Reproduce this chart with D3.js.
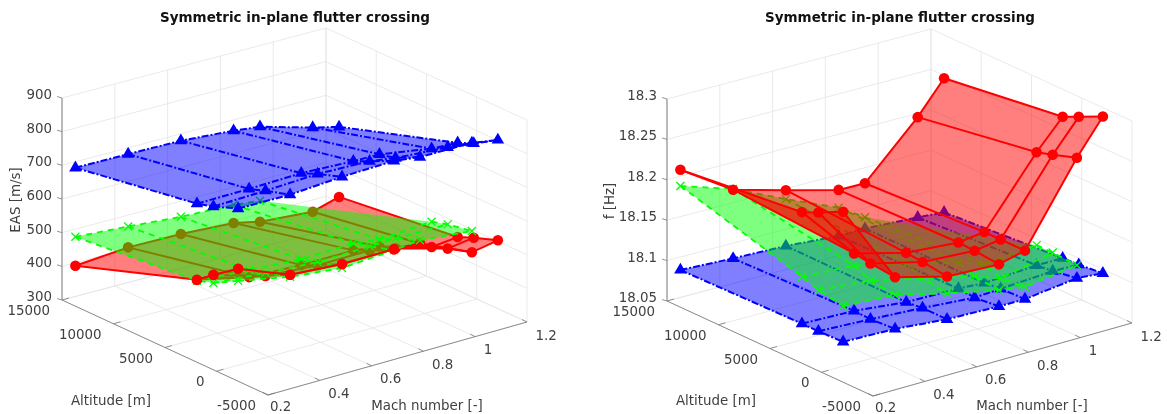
<!DOCTYPE html>
<html>
<head>
<meta charset="utf-8">
<script src="https://d3js.org/d3.v7.min.js"></script>
<style>
  html, body { margin: 0; padding: 0; background: #fff; }
  svg { display: block; filter: blur(0.35px); }
  text { font-family: "DejaVu Sans", sans-serif; fill: #404040; }
</style>
</head>
<body>
<svg id="chart" width="1167" height="414"></svg>
<script>
const machValues = [0.2, 0.4, 0.6, 0.8, 0.9, 1.1, 1.2]
const altValues = [13700, 1900, 300, -2100]

const machTicks = [0.2, 0.4, 0.6, 0.8, 1, 1.2]
const altTicks = [-5000, 0, 5000, 10000, 15000]
const easTicks = [300, 400, 500, 600, 700, 800, 900]
const freqTicks = [18.05, 18.1, 18.15, 18.2, 18.25, 18.3]
const freqTickLabels = ["18.05", "18.1", "18.15", "18.2", "18.25", "18.3"]

// one row per altitude, one column per mach number
const easBlue = [
    [711, 710, 708, 696, 687, 643, 624],
    [771, 772, 776, 769, 768, 742, 738],
    [785, 789, 796, 791, 779, 768, 758],
    [813, 811, 821, 825, 815, 814, 801]
]
const easRed = [
    [420, 433, 431, 422, 405, 393, 416],
    [545, 510, 503, 504, 494, 450, 458],
    [582, 536, 525, 526, 511, 467, 478],
    [634, 573, 562, 563, 559, 489, 503]
]
const easGreen = [
    [506, 495, 482, 476, 467, null, null],
    [542, 531, 520, 525, 515, 525, null],
    [558, 545, 534, 538, 540, 539, null],
    [598, 567, 550, 560, 568, 552, null]
]
const freqBlue = [
    [18.096, 18.093, 18.091, 18.086, 18.0865, 18.083, 18.0805],
    [18.099, 18.097, 18.090, 18.089, 18.087, 18.091, 18.091],
    [18.099, 18.096, 18.092, 18.087, 18.089, 18.093, 18.092],
    [18.100, 18.098, 18.092, 18.090, 18.090, 18.098, 18.095]
]
const freqRed = [
    [18.220, 18.178, 18.160, 18.143, 18.1425, 18.207, 18.2465],
    [18.237, 18.168, 18.151, 18.146, 18.150, 18.231, 18.266],
    [18.246, 18.165, 18.149, 18.145, 18.150, 18.237, 18.275],
    [18.261, 18.162, 18.145, 18.142, 18.150, 18.247, 18.289]
]
const freqGreen = [
    [18.200, 18.179, 18.149, 18.121, 18.1005, null, null],
    [18.157, 18.153, 18.138, 18.121, 18.110, 18.116, null],
    [18.150, 18.144, 18.129, 18.113, 18.102, 18.116, null],
    [18.144, 18.140, 18.124, 18.110, 18.105, 18.114, null]
]

const styles = {
    blue: { stroke: "#0000ff", fill: "#0000ff", dash: "7 2 2 2", width: 2, marker: "triangle" },
    green: { stroke: "#00ff00", fill: "#00ff00", dash: "6 5", width: 1.8, marker: "cross" },
    red: { stroke: "#ff0000", fill: "#ff0000", dash: null, width: 2, marker: "circle" }
}

const svg = d3.select("#chart")
const machScale = d3.scaleLinear().domain([0.2, 1.2]).range([0, 1])
const altScale = d3.scaleLinear().domain([-5000, 15000]).range([0, 1])

function drawPanel(panel) {
    const g = svg.append("g").attr("transform", "translate(" + panel.dx + "," + panel.dy + ")")
    const zScale = d3.scaleLinear().domain(panel.zDomain).range([0, 202])
    const zMin = panel.zDomain[0]
    const zMax = panel.zDomain[1]

    // floor is slightly skewed, the back corner sits a bit off a pure parallelogram
    const project = (m, h, z) => {
        let u = machScale(m)
        let v = altScale(h)
        return [
            268 + 259 * u - 206 * v + 5 * u * v,
            395 - 73 * u - 95 * v + 3 * u * v - zScale(z)
        ]
    }
    const line = d3.line()

    // grid on the floor and on the two back walls
    const grid = g.append("g")
        .attr("fill", "none")
        .attr("stroke", "#e4e4e4")
        .attr("stroke-width", 0.8)
    const gridSegs = []
    machTicks.forEach((m) => {
        gridSegs.push([project(m, -5000, zMin), project(m, 15000, zMin)])
        gridSegs.push([project(m, 15000, zMin), project(m, 15000, zMax)])
    })
    altTicks.forEach((h) => {
        gridSegs.push([project(0.2, h, zMin), project(1.2, h, zMin)])
        gridSegs.push([project(1.2, h, zMin), project(1.2, h, zMax)])
    })
    panel.zTicks.forEach((z) => {
        gridSegs.push([project(0.2, 15000, z), project(1.2, 15000, z)])
        gridSegs.push([project(1.2, 15000, z), project(1.2, -5000, z)])
    })
    grid.selectAll("path").data(gridSegs).enter().append("path").attr("d", (d) => line(d))

    // surfaces, first one is the furthest down
    panel.series.forEach((s) => drawSurface(g, s, project, line))
    if (panel.overlay) drawAbove(g, panel.overlay, project, line)

    // axes
    const axes = g.append("g").attr("fill", "none")
    axes.append("path")
        .attr("d", line([project(0.2, 15000, zMin), project(0.2, 15000, zMax)]))
        .attr("stroke", "#b4b4b4")
        .attr("stroke-width", 1.8)
    axes.append("path")
        .attr("d", line([project(0.2, 15000, zMin), project(0.2, -5000, zMin), project(1.2, -5000, zMin)]))
        .attr("stroke", "#8c8c8c")
        .attr("stroke-width", 1)

    panel.zTicks.forEach((z, i) => {
        let p = project(0.2, 15000, z)
        axes.append("path").attr("d", line([p, [p[0] - 5, p[1] - 1.5]])).attr("stroke", "#7a7a7a").attr("stroke-width", 0.8)
        g.append("text")
            .attr("x", p[0] - 10)
            .attr("y", p[1] - 3)
            .attr("text-anchor", "end")
            .attr("dominant-baseline", "middle")
            .style("font-size", "13.4px")
            .text(panel.zLabels[i])
    })
    altTicks.forEach((h) => {
        let p = project(0.2, h, zMin)
        axes.append("path").attr("d", line([p, [p[0] + 7, p[1] - 2]])).attr("stroke", "#7a7a7a").attr("stroke-width", 0.8)
        g.append("text")
            .attr("x", p[0] - 12)
            .attr("y", p[1] + 11)
            .attr("text-anchor", "end")
            .attr("dominant-baseline", "middle")
            .style("font-size", "13.4px")
            .text(h)
    })
    machTicks.forEach((m, i) => {
        let p = project(m, -5000, zMin)
        axes.append("path").attr("d", line([p, [p[0] - 5, p[1] - 2.5]])).attr("stroke", "#7a7a7a").attr("stroke-width", 0.8)
        g.append("text")
            .attr("x", p[0] + (i == 0 ? 2 : 8.5))
            .attr("y", p[1] + (i == 0 ? 11.5 : 13.5))
            .attr("dominant-baseline", "middle")
            .style("font-size", "13.4px")
            .text(m)
    })

    g.append("text")
        .attr("x", 111)
        .attr("y", 401 - panel.dy)
        .attr("text-anchor", "middle")
        .attr("dominant-baseline", "middle")
        .style("font-size", "13.4px")
        .text("Altitude [m]")
    g.append("text")
        .attr("x", 427)
        .attr("y", 405.5 - panel.dy)
        .attr("text-anchor", "middle")
        .attr("dominant-baseline", "middle")
        .style("font-size", "13.4px")
        .text("Mach number [-]")
    g.append("text")
        .attr("transform", "translate(" + panel.zLabelX + "," + panel.zLabelY + ") rotate(-90)")
        .attr("text-anchor", "middle")
        .attr("dominant-baseline", "middle")
        .style("font-size", "13.4px")
        .text(panel.zTitle)
    g.append("text")
        .attr("x", 295)
        .attr("y", 18 - panel.dy)
        .attr("text-anchor", "middle")
        .attr("dominant-baseline", "middle")
        .style("font-size", "13.5px")
        .style("font-weight", "bold")
        .style("fill", "#111")
        .text("Symmetric in-plane flutter crossing")
}

function surfacePoints(values, project) {
    return values.map((row, i) => row.map((z, j) => {
        return z === null ? null : project(machValues[j], altValues[i], z)
    }))
}

function drawMarkers(g, st, marks) {
    const mg = g.append("g").selectAll("path").data(marks).enter().append("path")
        .attr("transform", (d) => "translate(" + d[0] + "," + d[1] + ")")
    if (st.marker == "circle") {
        mg.attr("d", d3.symbol(d3.symbolCircle, 88)).attr("fill", st.fill)
    } else if (st.marker == "triangle") {
        mg.attr("d", d3.symbol(d3.symbolTriangle, 68)).attr("fill", st.fill)
    } else {
        mg.attr("d", "M-4,-4L4,4M-4,4L4,-4").attr("fill", "none").attr("stroke", st.stroke).attr("stroke-width", 1.3)
    }
}

function drawSurface(g, s, project, line) {
    const st = styles[s.style]
    const pts = surfacePoints(s.values, project)

    // quads only where all four corners exist
    const quads = []
    for (let i = 0; i < pts.length - 1; i++) {
        for (let j = 0; j < pts[i].length - 1; j++) {
            let c = [pts[i][j], pts[i][j + 1], pts[i + 1][j + 1], pts[i + 1][j]]
            if (c.every((p) => p !== null)) quads.push(c)
        }
    }
    // the triangle left at the corner of the green surface
    for (let i = 0; i < pts.length - 1; i++) {
        for (let j = 0; j < pts[i].length - 1; j++) {
            let c = [pts[i][j], pts[i + 1][j + 1], pts[i + 1][j]]
            if (pts[i][j + 1] === null && c.every((p) => p !== null)) quads.push(c)
        }
    }
    g.append("g").selectAll("path").data(quads).enter().append("path")
        .attr("d", (d) => line(d) + "Z")
        .attr("fill", st.fill)
        .attr("fill-opacity", 0.5)

    const segs = []
    pts.forEach((row) => {
        segs.push(row.filter((p) => p !== null))
    })
    machValues.forEach((m, j) => {
        segs.push(pts.map((row) => row[j]).filter((p) => p !== null))
    })
    g.append("g").selectAll("path").data(segs.filter((d) => d.length > 1)).enter().append("path")
        .attr("d", (d) => line(d))
        .attr("fill", "none")
        .attr("stroke", st.stroke)
        .attr("stroke-width", st.width)
        .attr("stroke-dasharray", st.dash)

    drawMarkers(g, st, pts.flat().filter((p) => p !== null))
}

// lines and markers of one surface where it lies above another one, these show through
function drawAbove(g, o, project, line) {
    const st = styles[o.style]
    const pts = surfacePoints(o.values, project)
    const above = (i, j) => o.under[i] && o.under[i][j] !== null && o.values[i][j] >= o.under[i][j]
    const segs = []
    const marks = []
    pts.forEach((row, i) => {
        row.forEach((p, j) => {
            if (!above(i, j)) return
            marks.push(p)
            if (above(i, j + 1)) segs.push([p, pts[i][j + 1]])
            if (above(i + 1, j)) segs.push([p, pts[i + 1][j]])
        })
    })
    g.append("g").selectAll("path").data(segs).enter().append("path")
        .attr("d", (d) => line(d))
        .attr("fill", "none")
        .attr("stroke", st.stroke)
        .attr("stroke-width", st.width)
    drawMarkers(g, st, marks)
}

drawPanel({
    dx: 0, dy: 0,
    zDomain: [300, 900],
    zTicks: easTicks,
    zLabels: easTicks,
    zTitle: "EAS [m/s]",
    zLabelX: 16, zLabelY: 200,
    series: [
        { style: "red", values: easRed },
        { style: "green", values: easGreen },
        { style: "blue", values: easBlue }
    ],
    overlay: { style: "red", values: easRed, under: easGreen }
})
drawPanel({
    dx: 605, dy: 1,
    zDomain: [18.05, 18.3],
    zTicks: freqTicks,
    zLabels: freqTickLabels,
    zTitle: "f [Hz]",
    zLabelX: 5, zLabelY: 200,
    series: [
        { style: "blue", values: freqBlue },
        { style: "green", values: freqGreen },
        { style: "red", values: freqRed }
    ]
})
</script>
</body>
</html>
